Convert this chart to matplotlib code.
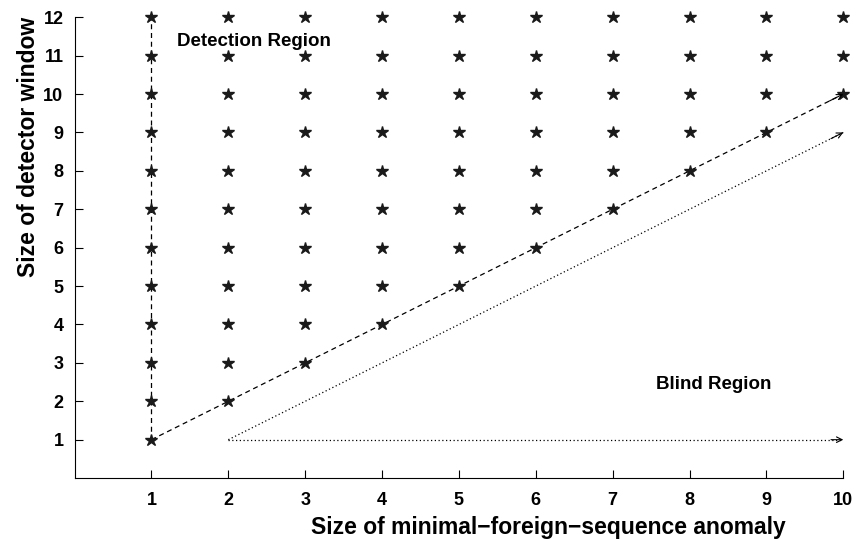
import numpy as np
import matplotlib.pyplot as plt

plt.rcParams['font.family'] = ['Liberation Sans', 'DejaVu Sans']
plt.rcParams['font.weight'] = 'bold'

# anomaly sizes (x) and detector window sizes (y)
anomaly_sizes = [1, 2, 3, 4, 5, 6, 7, 8, 9, 10]
window_sizes = [1, 2, 3, 4, 5, 6, 7, 8, 9, 10, 11, 12]
# smallest detecting window for each anomaly size
min_window = [1, 2, 3, 4, 5, 6, 7, 8, 9, 10]

# guide lines: (start, end, style, arrow)
guides = [
    ((1, 1), (1, 12), (0, (4, 3)), False),
    ((1, 1), (10, 10), (0, (4, 3)), True),
    ((2, 1), (10, 9), (0, (1, 2)), True),
    ((2, 1), (10, 1), (0, (1, 2)), True),
]

fig = plt.figure(figsize=(8.57, 5.39), dpi=100)
ax = fig.add_axes([0.087, 0.113, 0.897, 0.855])

# star grid - detector window >= anomaly size
sx, sy = [], []
for a, m in zip(anomaly_sizes, min_window):
    for w in window_sizes:
        if w >= m:
            sx.append(a)
            sy.append(w)
ax.plot(sx, sy, '*', color='#1a1a1a', ms=9, zorder=3, linestyle='none', clip_on=False)

for (x0, y0), (x1, y1), ls, arrow in guides:
    ax.plot([x0, x1], [y0, y1], linestyle=ls, color='black', lw=0.9, clip_on=False)
    if arrow:
        # short head only, so the shaft keeps its dash pattern
        hx = x1 - (x1 - x0) * 0.02
        hy = y1 - (y1 - y0) * 0.02
        ax.annotate('', xy=(x1, y1), xytext=(hx, hy),
                    arrowprops=dict(arrowstyle='->', lw=0.8, color='black',
                                    shrinkA=0, shrinkB=0, mutation_scale=10),
                    annotation_clip=False)

ax.text(1.33, 11.37, 'Detection Region', fontsize=13.5, fontweight='bold', va='center')
ax.text(7.57, 2.43, 'Blind Region', fontsize=13.5, fontweight='bold', va='center')

ax.set_xlim(0, 10)
ax.set_ylim(0, 12)
ax.set_xticks(anomaly_sizes)
ax.set_yticks(window_sizes)
ax.tick_params(direction='in', length=6, labelsize=13, width=0.8, pad=8)
ax.tick_params(axis='x', pad=10)
for lab in ax.get_xticklabels() + ax.get_yticklabels():
    lab.set_fontweight('bold')
ax.spines['top'].set_visible(False)
ax.spines['right'].set_visible(False)

ax.set_xlabel('Size of minimal\u2212foreign\u2212sequence anomaly', fontsize=16.5,
              fontweight='bold', va='baseline')
ax.xaxis.set_label_coords(0.616, -0.121)
ax.set_ylabel('Size of detector window', fontsize=16.5, fontweight='bold', va='center')
ax.yaxis.set_label_coords(-0.06, 0.718)

fig.savefig('out.png', dpi=100)
